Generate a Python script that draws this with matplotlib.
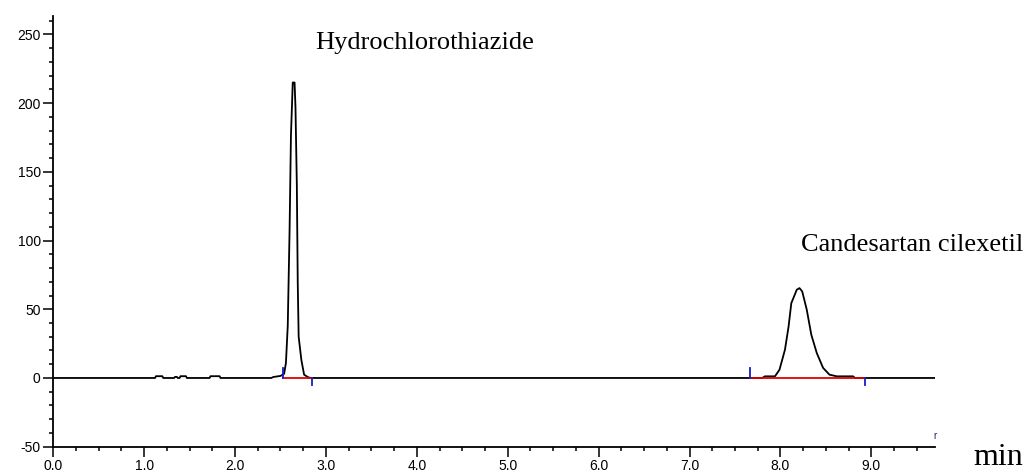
import matplotlib
matplotlib.use('Agg')
import matplotlib.pyplot as plt
from matplotlib.ticker import MultipleLocator, FormatStrFormatter

plt.rcParams['axes.unicode_minus'] = False

# chromatogram trace (time in min, signal in mAU)
noise_t = [0.0, 1.12, 1.13, 1.20, 1.21, 1.33, 1.34, 1.36, 1.37, 1.39, 1.40, 1.46, 1.47, 1.72, 1.73, 1.83, 1.84]
noise_y = [0, 0, 1.3, 1.3, 0, 0, 0.8, 0.8, 0, 0, 1.3, 1.3, 0, 0, 1.3, 1.3, 0]

hctz_t = [2.40, 2.42, 2.50, 2.54, 2.56, 2.58, 2.60, 2.615, 2.635, 2.655, 2.665, 2.68, 2.69, 2.70, 2.73, 2.76, 2.80, 2.83]
hctz_y = [0, 0.7, 1.5, 3, 11, 38, 107, 176, 215, 215, 197, 140, 69, 30, 13, 2.4, 0.7, 0]

cand_t = [7.80, 7.83, 7.94, 7.99, 8.05, 8.09, 8.12, 8.18, 8.21, 8.24, 8.29, 8.34, 8.40, 8.47, 8.54, 8.62, 8.80, 8.82, 9.70]
cand_y = [0, 1.2, 1.2, 6, 20.5, 37.4, 54.4, 64.2, 65.4, 63, 49.7, 31.5, 18.2, 7.3, 2.4, 1.2, 1.2, 0, 0]

# integration start/end marks and baselines
peak_start = [2.53, 7.67]
peak_end = [2.85, 8.93]

peak_names = ['Hydrochlorothiazide', 'Candesartan cilexetil']
name_pos = [(2.88, 244), (8.23, 97)]

xticks = [0, 1, 2, 3, 4, 5, 6, 7, 8, 9]
yticks = [-50, 0, 50, 100, 150, 200, 250]

fig = plt.figure(figsize=(10.24, 4.75), dpi=100)
ax = fig.add_axes([0.052, 0.0596, 0.861, 0.907])

t = noise_t + hctz_t + cand_t
y = noise_y + hctz_y + cand_y
ax.plot(t, y, color='black', lw=1.3, zorder=3)

for s, e in zip(peak_start, peak_end):
    ax.plot([s, e], [0, 0], color='#e00000', lw=1.3, zorder=4)
    ax.plot([s, s], [0, 7], color='#1020c0', lw=1.3, zorder=5)
    ax.plot([e, e], [0, -5], color='#1020c0', lw=1.3, zorder=5)

for name, (px, py) in zip(peak_names, name_pos):
    ax.text(px, py, name, ha='left', va='center', fontsize=19,
            family='Liberation Serif', color='black')

ax.text(9.70, -42, 'r', ha='center', va='center', fontsize=7,
        family='Liberation Sans', color='#202050')
fig.text(0.951, 0.021, 'min', ha='left', va='baseline', fontsize=23,
         family='Liberation Serif', color='black')

ax.set_xlim(0, 9.7)
ax.set_ylim(-50, 263.5)
ax.set_xticks(xticks)
ax.set_yticks(yticks)
ax.xaxis.set_major_formatter(FormatStrFormatter('%.1f'))
ax.xaxis.set_minor_locator(MultipleLocator(0.25))
ax.yaxis.set_minor_locator(MultipleLocator(10))

for side in ['top', 'right']:
    ax.spines[side].set_visible(False)
for side in ['left', 'bottom']:
    ax.spines[side].set_linewidth(1.3)
    ax.spines[side].set_color('black')

ax.tick_params(which='major', direction='out', length=7.5, width=1.1, labelsize=10, pad=1.5)
ax.tick_params(which='minor', direction='out', length=3, width=1.1)
for lab in ax.get_xticklabels() + ax.get_yticklabels():
    lab.set_family('Liberation Sans')

plt.savefig('out.png', dpi=100)
